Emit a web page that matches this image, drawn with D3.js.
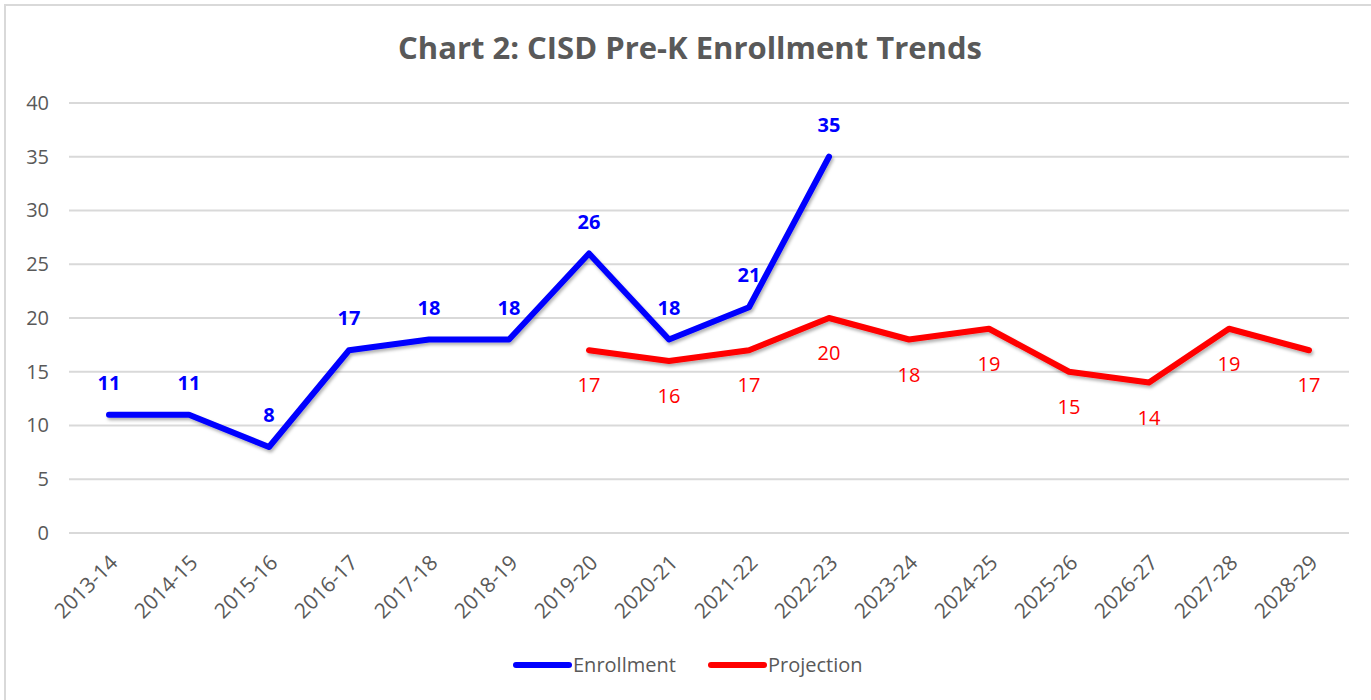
<!DOCTYPE html>
<head>
  <meta charset="utf-8">
  <script src="https://cdnjs.cloudflare.com/ajax/libs/d3/7.8.5/d3.min.js"></script>
  <style>
    body { margin:0; background:#fff; }
    svg { display:block; font-family: "Open Sans", "Noto Sans", sans-serif; }
  </style>
</head>
<body>
  <script>
    var years = ["2013-14","2014-15","2015-16","2016-17","2017-18","2018-19","2019-20","2020-21",
                 "2021-22","2022-23","2023-24","2024-25","2025-26","2026-27","2027-28","2028-29"];
    var enrollment = [11, 11, 8, 17, 18, 18, 26, 18, 21, 35];
    var projectionYears = years.slice(6);
    var projection = [17, 16, 17, 20, 18, 19, 15, 14, 19, 17];
    var yTicks = [0, 5, 10, 15, 20, 25, 30, 35, 40];

    var W = 1371, H = 700;
    var svg = d3.select("body").append("svg").attr("width", W).attr("height", H);

    // outer chart border
    svg.append("rect")
      .attr("x", 5).attr("y", 5).attr("width", W + 20).attr("height", H + 20)
      .style("fill", "none").style("stroke", "#d9d9d9").style("stroke-width", 2);

    var defs = svg.append("defs");
    var f = defs.append("filter").attr("id", "shadow").attr("x", "-5%").attr("y", "-5%").attr("width", "110%").attr("height", "120%");
    f.append("feDropShadow").attr("dx", 1.5).attr("dy", 2.5).attr("stdDeviation", 1.5)
      .attr("flood-color", "#000").attr("flood-opacity", 0.3);

    var x = d3.scaleBand().domain(years).range([69, 1349]);
    var y = d3.scaleLinear().domain([0, 40]).range([533, 103]);
    var cx = function(d) { return x(d) + x.bandwidth() / 2; };

    svg.append("text")
      .attr("x", 690).attr("y", 59).attr("text-anchor", "middle")
      .style("font-size", "31px").style("font-weight", "bold").style("fill", "#595959")
      .text("Chart 2: CISD Pre-K Enrollment Trends");

    // gridlines
    svg.append("g").selectAll("line").data(yTicks).enter().append("line")
      .attr("x1", 69).attr("x2", 1349)
      .attr("y1", function(d) { return y(d); }).attr("y2", function(d) { return y(d); })
      .style("stroke", "#d9d9d9").style("stroke-width", 2);

    var yAxis = svg.append("g").attr("transform", "translate(69,0)")
      .call(d3.axisLeft(y).tickValues(yTicks).tickSize(0).tickPadding(20));
    yAxis.select(".domain").remove();
    yAxis.selectAll("text").style("font-size", "20px").style("fill", "#595959")
      .style("font-family", "'Open Sans', sans-serif");

    var xAxis = svg.append("g").attr("transform", "translate(0,533)")
      .call(d3.axisBottom(x).tickSize(0));
    xAxis.select(".domain").remove();
    xAxis.selectAll("text")
      .style("font-size", "21px").style("fill", "#595959").style("font-family", "'Open Sans', sans-serif")
      .attr("text-anchor", "end").attr("dy", null).attr("y", 0)
      .attr("transform", "translate(10,31) rotate(-45)");

    var line = d3.line().x(function(d) { return cx(d[0]); }).y(function(d) { return y(d[1]); });
    var enrData = enrollment.map(function(v, i) { return [years[i], v]; });
    var projData = projection.map(function(v, i) { return [projectionYears[i], v]; });

    svg.append("path").datum(projData).attr("d", line)
      .style("fill", "none").style("stroke", "#ff0000").style("stroke-width", 6)
      .style("stroke-linejoin", "round").style("stroke-linecap", "round").attr("filter", "url(#shadow)");
    svg.append("path").datum(enrData).attr("d", line)
      .style("fill", "none").style("stroke", "#0000ff").style("stroke-width", 6)
      .style("stroke-linejoin", "round").style("stroke-linecap", "round").attr("filter", "url(#shadow)");

    svg.append("g").selectAll("text").data(enrData).enter().append("text")
      .attr("x", function(d) { return cx(d[0]); })
      .attr("y", function(d) { return y(d[1]) - 25; })
      .attr("text-anchor", "middle")
      .style("font-size", "20px").style("font-weight", "bold").style("fill", "#0000ff")
      .text(function(d) { return d[1]; });

    svg.append("g").selectAll("text").data(projData).enter().append("text")
      .attr("x", function(d) { return cx(d[0]); })
      .attr("y", function(d) { return y(d[1]) + 42; })
      .attr("text-anchor", "middle")
      .style("font-size", "20px").style("fill", "#ff0000")
      .text(function(d) { return d[1]; });

    // legend
    var legend = [{name: "Enrollment", color: "#0000ff", x: 513}, {name: "Projection", color: "#ff0000", x: 708}];
    var lg = svg.append("g").selectAll("g").data(legend).enter().append("g")
      .attr("transform", function(d) { return "translate(" + d.x + ",665)"; });
    lg.append("line").attr("x1", 3).attr("x2", 56).attr("y1", 0).attr("y2", 0)
      .style("stroke", function(d) { return d.color; }).style("stroke-width", 6).style("stroke-linecap", "round");
    lg.append("text").attr("x", 60).attr("y", 7)
      .style("font-size", "20px").style("fill", "#595959")
      .text(function(d) { return d.name; });
  </script>
</body>
